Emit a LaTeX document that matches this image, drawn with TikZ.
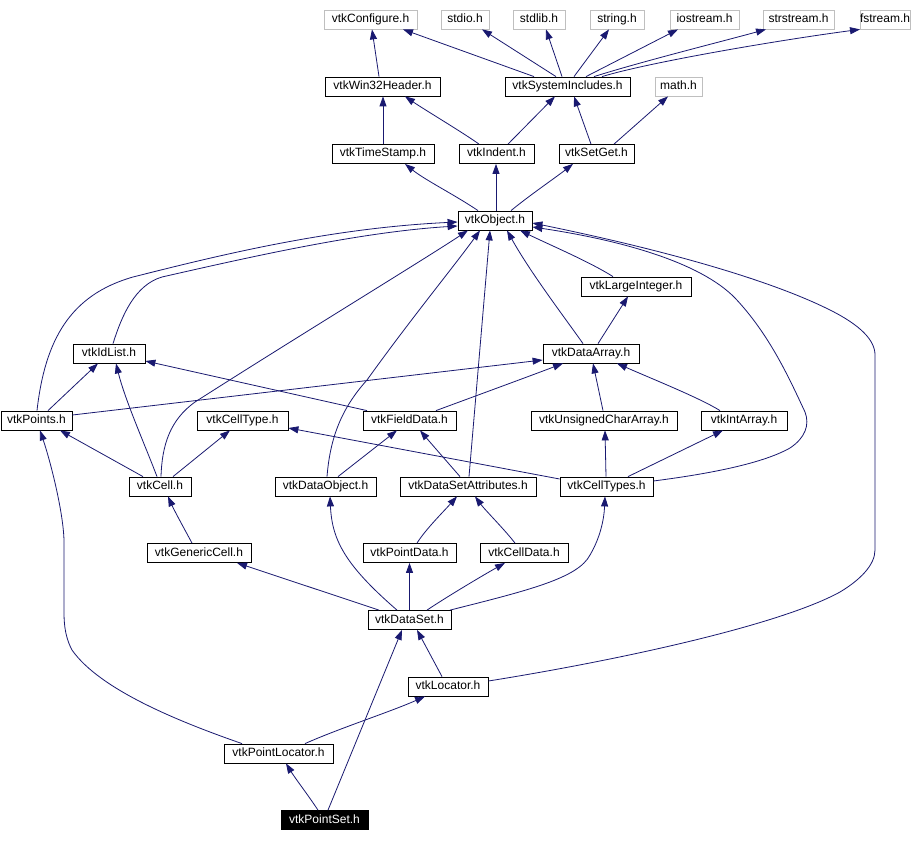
\documentclass[tikz,border=0pt]{standalone}
\usepackage{fontspec}
\setmainfont{Liberation Sans}
\usetikzlibrary{arrows.meta}
\definecolor{navy}{HTML}{191970}
\definecolor{greyline}{HTML}{BFBFBF}
\begin{document}
\begin{tikzpicture}[x=1pt,y=-1pt,
  hdr/.style={draw=black, line width=0.8pt, minimum height=19pt, inner sep=0pt,
    text height=9pt, text depth=3pt,
    font=\fontsize{12}{14}\selectfont, fill=white},
  sys/.style={hdr, draw=greyline},
  cur/.style={hdr, fill=black, text=white},
  dep/.style={draw=navy, line width=0.8pt, -{Triangle[length=10pt,width=7pt]}}]
\useasboundingbox[fill=white] (0,0) rectangle (920,842);
% row 1
\node[sys, minimum width=93pt] (conf) at (370.5,19.5) {vtkConfigure.h};
\node[sys, minimum width=48pt] (stdio) at (465,19.5) {stdio.h};
\node[sys, minimum width=52pt] (stdlib) at (539,19.5) {stdlib.h};
\node[sys, minimum width=54pt] (string) at (617,19.5) {string.h};
\node[sys, minimum width=69pt] (iostream) at (704.5,19.5) {iostream.h};
\node[sys, minimum width=71pt] (strstream) at (798.5,19.5) {strstream.h};
\node[sys, minimum width=50pt] (fstream) at (885,19.5) {fstream.h};
% row 2
\node[hdr, minimum width=115pt] (win32) at (382.5,86.5) {vtkWin32Header.h};
\node[hdr, minimum width=125pt] (sysinc) at (567.5,86.5) {vtkSystemIncludes.h};
\node[sys, minimum width=47pt] (math) at (678.5,86.5) {math.h};
% row 3
\node[hdr, minimum width=102pt] (timestamp) at (383,154) {vtkTimeStamp.h};
\node[hdr, minimum width=75pt] (indent) at (496.5,154) {vtkIndent.h};
\node[hdr, minimum width=75pt] (setget) at (596.5,154) {vtkSetGet.h};
% row 4
\node[hdr, minimum width=74pt] (object) at (495,220.5) {vtkObject.h};
\node[hdr, minimum width=110pt] (largeint) at (636,286.5) {vtkLargeInteger.h};
% row 6
\node[hdr, minimum width=72pt] (idlist) at (109,353.5) {vtkIdList.h};
\node[hdr, minimum width=96pt] (dataarray) at (591,353.5) {vtkDataArray.h};
% row 7
\node[hdr, minimum width=71pt] (points) at (36.5,420.5) {vtkPoints.h};
\node[hdr, minimum width=91pt] (celltype) at (242.5,420.5) {vtkCellType.h};
\node[hdr, minimum width=93pt] (fielddata) at (409.5,420.5) {vtkFieldData.h};
\node[hdr, minimum width=146pt] (ucharray) at (604,420.5) {vtkUnsignedCharArray.h};
\node[hdr, minimum width=86pt] (intarray) at (744,420.5) {vtkIntArray.h};
% row 8
\node[hdr, minimum width=62pt] (cell) at (160,486.5) {vtkCell.h};
\node[hdr, minimum width=101pt] (dataobject) at (325.5,486.5) {vtkDataObject.h};
\node[hdr, minimum width=136pt] (dsattr) at (468,486.5) {vtkDataSetAttributes.h};
\node[hdr, minimum width=93pt] (celltypes) at (606.5,486.5) {vtkCellTypes.h};
% row 9
\node[hdr, minimum width=104pt] (genericcell) at (199,553) {vtkGenericCell.h};
\node[hdr, minimum width=93pt] (pointdata) at (409.5,553) {vtkPointData.h};
\node[hdr, minimum width=88pt] (celldata) at (524,553) {vtkCellData.h};
% lower rows
\node[hdr, minimum width=83pt] (dataset) at (409.5,620) {vtkDataSet.h};
\node[hdr, minimum width=80pt] (locator) at (448,686.5) {vtkLocator.h};
\node[hdr, minimum width=109pt] (pointlocator) at (278.5,753.5) {vtkPointLocator.h};
\node[cur, minimum width=87pt] (pointset) at (324.5,820) {vtkPointSet.h};
% edges
\draw[dep] (379,0 |- win32.north) -- (372,0 |- conf.south);
\draw[dep] (534,0 |- sysinc.north) -- (403,0 |- conf.south);
\draw[dep] (556,0 |- sysinc.north) -- (482,0 |- stdio.south);
\draw[dep] (562,0 |- sysinc.north) -- (546,0 |- stdlib.south);
\draw[dep] (574,0 |- sysinc.north) -- (609,0 |- string.south);
\draw[dep] (586,0 |- sysinc.north) -- (678,0 |- iostream.south);
\draw[dep] (594,0 |- sysinc.north) .. controls (640,62) and (720,42) .. (766,0 |- strstream.south);
\draw[dep] (602,0 |- sysinc.north) .. controls (650,62) and (780,40) .. (860,0 |- fstream.south);
\draw[dep] (383,0 |- timestamp.north) -- (383,0 |- win32.south);
\draw[dep] (479,0 |- indent.north) .. controls (462,132) and (425,110) .. (405,0 |- win32.south);
\draw[dep] (508,0 |- indent.north) -- (555,0 |- sysinc.south);
\draw[dep] (591,0 |- setget.north) -- (574,0 |- sysinc.south);
\draw[dep] (614,0 |- setget.north) -- (668,0 |- math.south);
\draw[dep] (478,0 |- object.north) .. controls (455,195) and (425,180) .. (405,0 |- timestamp.south);
\draw[dep] (496,0 |- object.north) -- (496,0 |- indent.south);
\draw[dep] (511,0 |- object.north) .. controls (530,195) and (555,178) .. (573,0 |- setget.south);
\draw[dep] (613,0 |- largeint.north) .. controls (590,262) and (550,245) .. (520,0 |- object.south);
\draw[dep] (598,0 |- dataarray.north) -- (628,0 |- largeint.south);
\draw[dep] (583,0 |- dataarray.north) .. controls (565,318) and (530,272) .. (507,0 |- object.south);
\draw[dep] (113,0 |- idlist.north) .. controls (122,315) and (135,285) .. (162,277) .. controls (250,257) and (360,232) .. (object.west |- 0,226);
\draw[dep] (37,0 |- points.north) .. controls (45,340) and (70,295) .. (133,277) .. controls (220,255) and (330,228) .. (object.west |- 0,222);
\draw[dep] (48,0 |- points.north) -- (98,0 |- idlist.south);
\draw[dep] (points.east |- 0,415) -- (dataarray.west |- 0,360);
\draw[dep] (367,0 |- fielddata.north) -- (idlist.east |- 0,361);
\draw[dep] (436,0 |- fielddata.north) .. controls (470,398) and (530,376) .. (563,0 |- dataarray.south);
\draw[dep] (603,0 |- ucharray.north) -- (593,0 |- dataarray.south);
\draw[dep] (720,0 |- intarray.north) .. controls (700,398) and (650,378) .. (617,0 |- dataarray.south);
\draw[dep] (161,0 |- cell.north) .. controls (162,445) and (170,420) .. (195,402) .. controls (300,335) and (420,262) .. (468,0 |- object.south);
\draw[dep] (143,0 |- cell.north) -- (60,0 |- points.south);
\draw[dep] (157,0 |- cell.north) .. controls (145,445) and (125,400) .. (116,0 |- idlist.south);
\draw[dep] (173,0 |- cell.north) -- (230,0 |- celltype.south);
\draw[dep] (327,0 |- dataobject.north) .. controls (330,440) and (340,410) .. (367,380) .. controls (410,320) and (455,265) .. (480,0 |- object.south);
\draw[dep] (338,0 |- dataobject.north) -- (397,0 |- fielddata.south);
\draw[dep] (469,0 |- dsattr.north) -- (490,0 |- object.south);
\draw[dep] (460,0 |- dsattr.north) .. controls (450,465) and (435,448) .. (420,0 |- fielddata.south);
\draw[dep] (celltypes.west |- 0,479) -- (celltype.east |- 0,428);
\draw[dep] (606,0 |- celltypes.north) -- (605,0 |- ucharray.south);
\draw[dep] (628,0 |- celltypes.north) -- (723,0 |- intarray.south);
\draw[dep] (celltypes.east |- 0,481) .. controls (700,475) and (760,465) .. (790,448) .. controls (805,438) and (810,425) .. (805,412) .. controls (790,380) and (770,335) .. (735,298) .. controls (700,262) and (620,240) .. (object.east |- 0,227);
\draw[dep] (192,0 |- genericcell.north) .. controls (185,530) and (175,512) .. (168,0 |- cell.south);
\draw[dep] (417,0 |- pointdata.north) .. controls (425,530) and (445,510) .. (457,0 |- dsattr.south);
\draw[dep] (515,0 |- celldata.north) .. controls (505,530) and (485,510) .. (475,0 |- dsattr.south);
\draw[dep] (379,0 |- dataset.north) -- (237,0 |- genericcell.south);
\draw[dep] (397,0 |- dataset.north) .. controls (345,565) and (332,540) .. (330,0 |- dataobject.south);
\draw[dep] (409.5,0 |- dataset.north) -- (409.5,0 |- pointdata.south);
\draw[dep] (427,0 |- dataset.north) .. controls (445,598) and (480,577) .. (505,0 |- celldata.south);
\draw[dep] (450,0 |- dataset.north) .. controls (530,590) and (578,578) .. (590,555) .. controls (600,538) and (604,520) .. (605,0 |- celltypes.south);
\draw[dep] (442,0 |- locator.north) -- (417,0 |- dataset.south);
\draw[dep] (locator.east |- 0,681) .. controls (620,660) and (780,625) .. (840,592) .. controls (860,580) and (875,565) .. (875,550) -- (875,355) .. controls (875,340) and (860,325) .. (830,310) .. controls (760,275) and (640,245) .. (object.east |- 0,223);
\draw[dep] (305,0 |- pointlocator.north) .. controls (340,728) and (390,712) .. (425,0 |- locator.south);
\draw[dep] (242,0 |- pointlocator.north) .. controls (180,722) and (100,690) .. (72,650) .. controls (64,635) and (64,620) .. (64,610) -- (64,540) .. controls (63,510) and (50,460) .. (40,0 |- points.south);
\draw[dep] (318,0 |- pointset.north) .. controls (308,795) and (295,778) .. (286,0 |- pointlocator.south);
\draw[dep] (328,0 |- pointset.north) -- (402,0 |- dataset.south);
\end{tikzpicture}
\end{document}
